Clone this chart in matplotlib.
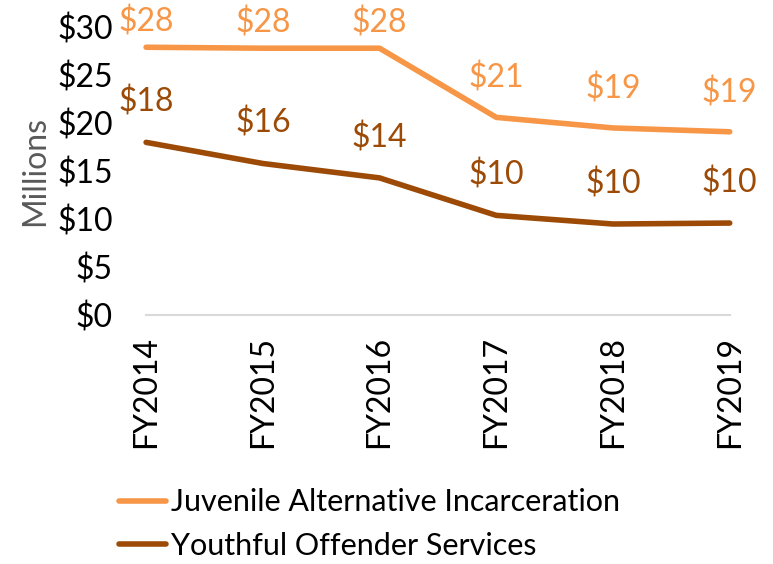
import matplotlib

matplotlib.use("Agg")
import matplotlib.pyplot as plt
from matplotlib.lines import Line2D

years = ["FY2014", "FY2015", "FY2016", "FY2017", "FY2018", "FY2019"]
juvenile = [27.9, 27.8, 27.8, 20.6, 19.5, 19.1]
youthful = [18.0, 15.8, 14.3, 10.4, 9.5, 9.6]
juvenile_labels = ["$28", "$28", "$28", "$21", "$19", "$19"]
youthful_labels = ["$18", "$16", "$14", "$10", "$10", "$10"]
yticks = [0, 5, 10, 15, 20, 25, 30]

# label offsets in points (first three pushed down to stay inside the chart)
juv_offsets = [18, 18, 18, 28, 28, 28]
youth_offsets = [29, 29, 29, 29, 29, 29]

ORANGE = "#F79646"
BROWN = "#9C4A06"
FS = 23

plt.rcParams["font.family"] = ["Lato", "DejaVu Sans"]

fig = plt.figure(figsize=(7.73, 5.64), dpi=100)
ax = fig.add_axes([0.189, 0.441, 0.755, 0.511])

x = list(range(len(years)))
ax.plot(x, juvenile, color=ORANGE, linewidth=4, solid_capstyle="round", clip_on=False)
ax.plot(x, youthful, color=BROWN, linewidth=4, solid_capstyle="round", clip_on=False)

for xi, v, lab, off in zip(x, juvenile, juvenile_labels, juv_offsets):
    ax.annotate(lab, (xi, v), xytext=(0, off), textcoords="offset points",
                ha="center", va="center", fontsize=FS, color=ORANGE)
for xi, v, lab, off in zip(x, youthful, youthful_labels, youth_offsets):
    ax.annotate(lab, (xi, v), xytext=(0, off), textcoords="offset points",
                ha="center", va="center", fontsize=FS, color=BROWN)

ax.set_xlim(0, len(years) - 1)
ax.set_ylim(0, 30)
ax.set_yticks(yticks)
ax.set_yticklabels([f"${t}" for t in yticks], fontsize=FS)
ax.set_xticks(x)
ax.set_xticklabels(years, rotation=90, fontsize=FS)
ax.tick_params(length=0)
ax.tick_params(axis="y", pad=24)
ax.tick_params(axis="x", pad=15)
ax.set_ylabel("Millions", fontsize=FS, color="#595959", labelpad=5)

for side in ["left", "right", "top"]:
    ax.spines[side].set_visible(False)
ax.spines["bottom"].set_color("#D9D9D9")
ax.spines["bottom"].set_linewidth(1.5)

handles = [Line2D([], [], color=ORANGE, linewidth=4, solid_capstyle="round"),
           Line2D([], [], color=BROWN, linewidth=4, solid_capstyle="round")]
fig.legend(handles, ["Juvenile Alternative Incarceration", "Youthful Offender Services"],
           loc="lower left", bbox_to_anchor=(0.13, -0.025), frameon=False,
           fontsize=22, handlelength=1.55, handletextpad=0.15, labelspacing=0.5,
           borderaxespad=0.2)

fig.savefig("out.png", dpi=100)
